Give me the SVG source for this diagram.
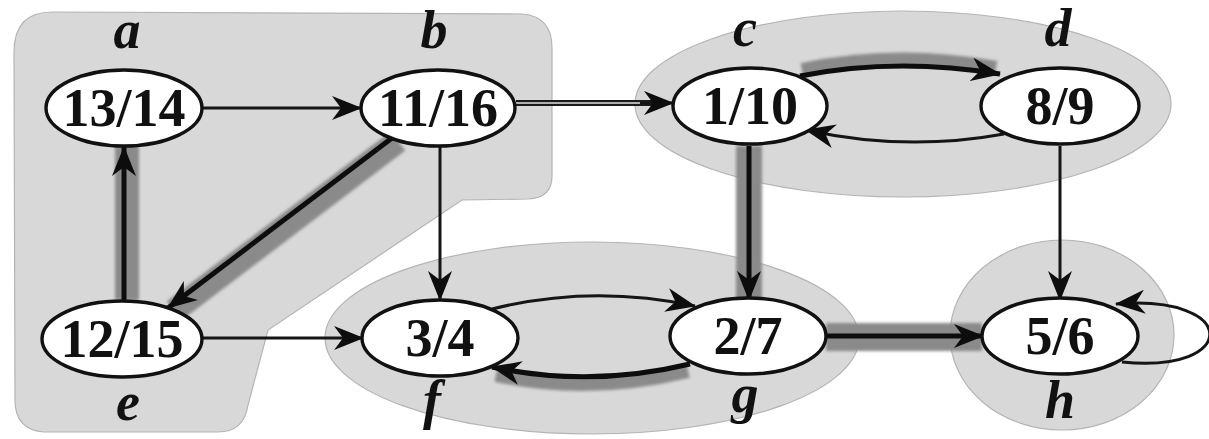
<svg xmlns="http://www.w3.org/2000/svg" width="1209" height="439" viewBox="0 0 1209 439">
  <style>
    .region { fill: #d8d8d8; stroke: #b4b4b4; stroke-width: 1.2; }
    .node ellipse { fill: #ffffff; stroke: #111111; stroke-width: 3.4; }
    .node text { font-family: "Liberation Serif", "Times New Roman", serif; font-weight: bold; font-size: 54px; fill: #111111; text-anchor: middle; }
    .lbl { font-family: "Liberation Serif", "Times New Roman", serif; font-weight: bold; font-style: italic; font-size: 44px; fill: #111111; text-anchor: middle; }
    .thin { fill: none; stroke: #151515; stroke-width: 3; marker-end: url(#ah); }
    .thick { fill: none; stroke: #0d0d0d; stroke-width: 5; marker-end: url(#ah); }
    .band { fill: none; stroke: #8a8a8a; filter: url(#soft); }
  </style>
  <defs>
    <filter id="soft" filterUnits="userSpaceOnUse" x="0" y="0" width="1209" height="439">
      <feGaussianBlur stdDeviation="1.8"/>
    </filter>
    <marker id="ah" viewBox="0 0 30 24" refX="29" refY="12" markerWidth="30" markerHeight="24" markerUnits="userSpaceOnUse" orient="auto">
      <path d="M0,0 L30,12 L0,24 L9,12 Z" fill="#0d0d0d"/>
    </marker>
  </defs>

  <!-- shaded strongly connected components -->
  <g id="regions">
    <path class="region" d="M 14,52 Q 14,12 52,12 L 522,14 Q 552,16 552,48 L 552,176 Q 552,198 528,199 L 462,200 L 268,330 L 248,405 Q 244,432 218,432 L 44,432 Q 15,430 15,400 Z"/>
    <ellipse class="region" cx="903" cy="104" rx="268" ry="93"/>
    <ellipse class="region" cx="592" cy="338" rx="267" ry="96"/>
    <ellipse class="region" cx="1062" cy="335" rx="112" ry="95"/>
  </g>

  <g id="connectors">
    <!-- tree-edge shading bands -->
    <line class="band" x1="127" y1="146" x2="127" y2="300" stroke-width="24" stroke="#a2a2a2"/>
    <line class="band" x1="398" y1="141" x2="174" y2="311" stroke-width="24" stroke="#777777"/>
    <line class="band" x1="749" y1="146" x2="749" y2="300" stroke-width="26" stroke="#a6a6a6"/>
    <line class="band" x1="826" y1="337" x2="982" y2="337" stroke-width="28" stroke="#a8a8a8"/>
    <path class="band" d="M 802,70 Q 895,50 996,68" stroke-width="14" stroke="#6a6a6a"/>
    <path class="band" d="M 688,371 Q 590,395 496,375" stroke-width="14" stroke="#6a6a6a"/>

    <!-- thin edges -->
    <line class="thin" x1="202" y1="108" x2="361" y2="108"/>
    <line x1="516" y1="103" x2="660" y2="103" stroke="#1a1a1a" stroke-width="6"/>
    <line x1="516" y1="103" x2="662" y2="103" stroke="#b0b0b0" stroke-width="2"/>
    <line class="thin" x1="640" y1="103" x2="673" y2="103"/>
    <line class="thin" x1="440" y1="146" x2="440" y2="300"/>
    <line class="thin" x1="200" y1="338" x2="363" y2="338"/>
    <line class="thin" x1="1060" y1="146" x2="1060" y2="300"/>
    <path class="thin" d="M 492,309 Q 592,284 695,306"/>
    <path class="thin" d="M 1004,134 Q 905,152 806,130"/>
    <path class="thin" d="M 1122,362 C 1240,374 1240,294 1116,304"/>

    <!-- tree edges -->
    <line class="thick" x1="124" y1="300" x2="124" y2="147"/>
    <line class="thick" x1="392" y1="138" x2="168" y2="308"/>
    <line class="thick" x1="749" y1="146" x2="749" y2="300"/>
    <line class="thick" x1="826" y1="336" x2="983" y2="336"/>
    <path class="thick" d="M 800,76 Q 895,57 1000,74"/>
    <path class="thick" d="M 690,364 Q 590,388 492,367"/>
  </g>

  <g id="node-a" class="node">
    <ellipse cx="124" cy="108" rx="78" ry="38"/>
    <text x="124" y="126">13/14</text>
    <text class="lbl" x="127" y="48">a</text>
  </g>
  <g id="node-b" class="node">
    <ellipse cx="438" cy="108" rx="77" ry="38"/>
    <text x="438" y="126">11/16</text>
    <text class="lbl" x="434" y="48">b</text>
  </g>
  <g id="node-c" class="node">
    <ellipse cx="750" cy="106" rx="77" ry="38"/>
    <text x="750" y="124">1/10</text>
    <text class="lbl" x="745" y="46">c</text>
  </g>
  <g id="node-d" class="node">
    <ellipse cx="1060" cy="106" rx="79" ry="38"/>
    <text x="1060" y="124">8/9</text>
    <text class="lbl" x="1058" y="46">d</text>
  </g>
  <g id="node-e" class="node">
    <ellipse cx="122" cy="339" rx="80" ry="38"/>
    <text x="122" y="357">12/15</text>
    <text class="lbl" x="128" y="420">e</text>
  </g>
  <g id="node-f" class="node">
    <ellipse cx="440" cy="338" rx="78" ry="38"/>
    <text x="440" y="356">3/4</text>
    <text class="lbl" x="432" y="418">f</text>
  </g>
  <g id="node-g" class="node">
    <ellipse cx="748" cy="336" rx="78" ry="38"/>
    <text x="748" y="354">2/7</text>
    <text class="lbl" x="745" y="412">g</text>
  </g>
  <g id="node-h" class="node">
    <ellipse cx="1060" cy="336" rx="78" ry="38"/>
    <text x="1060" y="354">5/6</text>
    <text class="lbl" x="1060" y="418">h</text>
  </g>
</svg>
